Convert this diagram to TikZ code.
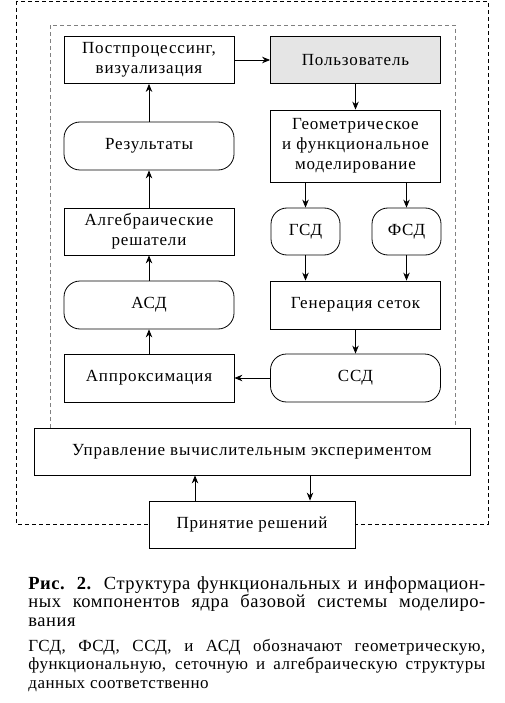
\documentclass[tikz,border=0pt]{standalone}
\usepackage{fontspec}
\usetikzlibrary{arrows.meta}
\setmainfont[LetterSpace=5]{Liberation Serif}
\newfontfamily\capfont[LetterSpace=3]{Liberation Serif}
\begin{document}
\begin{tikzpicture}[>={Stealth[length=8pt,width=6.5pt]}, x=1pt, y=-1pt, line width=0.8pt,
	block/.style={draw, align=center, inner sep=0pt, minimum width=170pt, minimum height=47pt, font=\fontsize{17}{20}\selectfont},
	pill/.style={block, rounded corners=16pt},
	narrow/.style={minimum width=69pt}]
	\useasboundingbox (0,0) rectangle (505,703);
	
	% Frames
	\draw[dashed, dash pattern=on 4pt off 3pt] (16,1) rectangle (488,524);
	\draw[dashed, gray, dash pattern=on 4pt off 3pt] (50,428) -- (50,25) -- (455,25) -- (455,428);
	
	% Left column
	\node[block] (post) at (149,60) {Постпроцессинг,\\визуализация};
	\node[pill, minimum height=48pt] (res) at (149,146) {Результаты};
	\node[block] (alg) at (149,231.5) {Алгебраические\\решатели};
	\node[pill, minimum height=48pt] (asd) at (149,305) {АСД};
	\node[block, minimum height=48pt] (approx) at (149,378) {Аппроксимация};
	
	% Right column
	\node[block, fill=black!10] (user) at (355.5,60) {Пользователь};
	\node[block, minimum height=72pt] (geo) at (355.5,146) {Геометрическое\\и функциональное\\моделирование};
	\node[pill, narrow] (gsd) at (305.5,231.5) {ГСД};
	\node[pill, narrow] (fsd) at (406.5,231.5) {ФСД};
	\node[block, minimum height=48pt] (gen) at (355.5,305) {Генерация сеток};
	\node[pill, minimum height=48pt] (ssd) at (355.5,378) {ССД};
	
	% Bottom
	\node[block, minimum width=436pt] (ctrl) at (252,451.5) {Управление вычислительным экспериментом};
	\node[block, minimum width=206pt, fill=white] (dec) at (252,524.5) {Принятие решений};
	
	% Connectors
	\draw[->] (post) -- (user);
	\draw[->] (user) -- (geo);
	\draw[->] (gsd.north |- geo.south) -- (gsd);
	\draw[->] (fsd.north |- geo.south) -- (fsd);
	\draw[->] (gsd) -- (gsd.south |- gen.north);
	\draw[->] (fsd) -- (fsd.south |- gen.north);
	\draw[->] (gen) -- (ssd);
	\draw[->] (ssd) -- (approx);
	\draw[->] (approx) -- (asd);
	\draw[->] (asd) -- (alg);
	\draw[->] (alg) -- (res);
	\draw[->] (res) -- (post);
	\draw[->] ([xshift=-57pt]dec.north) -- ([xshift=-57pt]dec.north |- ctrl.south);
	\draw[->] ([xshift=58pt]dec.north |- ctrl.south) -- ([xshift=58pt]dec.north);
	
	% Caption
	\node[anchor=north west, inner sep=0pt, text width=457pt, align=justify, font=\capfont\fontsize{18.5}{18.5}\selectfont] (cap) at (28,576) {%
		\tolerance=10000\hbadness=10000
		\textbf{Рис. 2.} Структура функциональных и информацион-\linebreak ных компонентов ядра базовой системы моделиро-\linebreak вания\par
		\vspace{6.5pt}\fontsize{17}{18}\selectfont
		ГСД, ФСД, ССД, и АСД обозначают геометрическую,\linebreak функциональную, сеточную и алгебраическую структуры\linebreak данных соответственно};
\end{tikzpicture}
\end{document}
